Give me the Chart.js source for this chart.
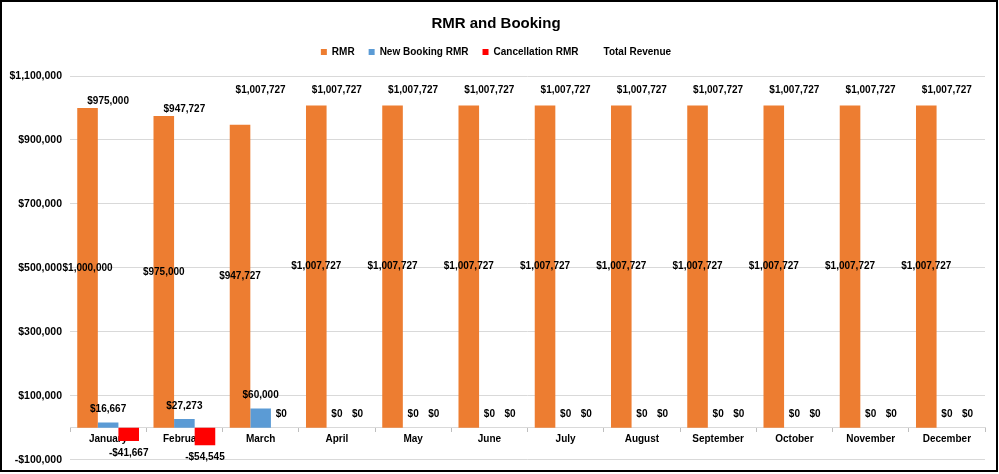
<!DOCTYPE html>
<html>
<head>
<meta charset="utf-8">
<title>RMR and Booking</title>
<script src="https://cdn.jsdelivr.net/npm/chart.js@4.4.1/dist/chart.umd.min.js"></script>
<style>
  html, body { margin: 0; padding: 0; background: #fff; }
  canvas { display: block; }
</style>
</head>
<body>
<canvas id="rmrChart" width="999" height="474"></canvas>
<script>
// Values
const months = ['January', 'February', 'March', 'April', 'May', 'June',
  'July', 'August', 'September', 'October', 'November', 'December'];
const rmr = [1000000, 975000, 947727, 1007727, 1007727, 1007727,
  1007727, 1007727, 1007727, 1007727, 1007727, 1007727];
const newBookingRmr = [16667, 27273, 60000, 0, 0, 0, 0, 0, 0, 0, 0, 0];
const cancellationRmr = [-41667, -54545, 0, 0, 0, 0, 0, 0, 0, 0, 0, 0];
const totalRevenue = [975000, 947727, 1007727, 1007727, 1007727, 1007727,
  1007727, 1007727, 1007727, 1007727, 1007727, 1007727];

// Axis ticks
const yMin = -100000;
const yMax = 1100000;
const yStep = 200000;

const FONT = '"Liberation Sans", Arial, sans-serif';

function money(v) {
  const s = '$' + Math.abs(Math.round(v)).toLocaleString('en-US');
  return v < 0 ? '-' + s : s;
}

// Excel-style data labels (center / outside end / above)
const valueLabels = {
  id: 'valueLabels',
  afterDatasetsDraw(chart) {
    const ctx = chart.ctx;
    ctx.save();
    ctx.font = 'bold 10px ' + FONT;
    ctx.fillStyle = '#000';
    ctx.textAlign = 'center';
    ctx.textBaseline = 'middle';
    chart.data.datasets.forEach((ds, i) => {
      const meta = chart.getDatasetMeta(i);
      meta.data.forEach((el, j) => {
        const v = ds.data[j];
        let y;
        if (ds.labelPos === 'center') y = (el.y + el.base) / 2;
        else if (ds.labelPos === 'above') y = el.y - 15;
        else y = v < 0 ? el.y + 12 : el.y - 13;
        ctx.fillText(money(v), el.x, y);
      });
    });
    ctx.restore();
  }
};

// white background + black frame
const frame = {
  id: 'frame',
  beforeDraw(chart) {
    const ctx = chart.ctx;
    ctx.save();
    ctx.fillStyle = '#fff';
    ctx.fillRect(0, 0, chart.width, chart.height);
    ctx.restore();
  },
  afterDraw(chart) {
    const ctx = chart.ctx;
    ctx.save();
    ctx.strokeStyle = '#000';
    ctx.lineWidth = 2;
    ctx.strokeRect(1, 1, 996, 470);
    ctx.restore();
  }
};

// leave a bit more room under the legend
const legendGap = {
  id: 'legendGap',
  beforeInit(chart) {
    const origFit = chart.legend.fit;
    chart.legend.fit = function () {
      origFit.bind(chart.legend)();
      this.height += 9;
    };
  }
};

const config = {
  type: 'bar',
  data: {
    labels: months,
    datasets: [
      { label: 'RMR', data: rmr, backgroundColor: '#ED7D31', labelPos: 'center' },
      { label: 'New Booking RMR', data: newBookingRmr, backgroundColor: '#5B9BD5', labelPos: 'end' },
      { label: 'Cancellation RMR', data: cancellationRmr, backgroundColor: '#FF0000', labelPos: 'end' },
      {
        type: 'line', label: 'Total Revenue', data: totalRevenue,
        showLine: false, pointRadius: 0, pointHoverRadius: 0,
        borderColor: 'rgba(0,0,0,0)', backgroundColor: 'rgba(0,0,0,0)',
        labelPos: 'above'
      }
    ]
  },
  options: {
    responsive: false,
    animation: false,
    datasets: {
      bar: { categoryPercentage: 0.81, barPercentage: 1 }
    },
    layout: { padding: { left: 7, right: 14, top: 0, bottom: 14 } },
    plugins: {
      title: {
        display: true,
        text: 'RMR and Booking',
        color: '#000',
        font: { family: FONT, size: 15, weight: 'bold' },
        padding: { top: 15, bottom: 0 }
      },
      legend: {
        position: 'top',
        labels: {
          boxWidth: 6,
          boxHeight: 6,
          padding: 14,
          color: '#000',
          font: { family: FONT, size: 10, weight: 'bold' }
        }
      },
      tooltip: { enabled: false }
    },
    scales: {
      x: {
        position: { y: 0 },
        z: 1,
        grid: { offset: true, drawOnChartArea: false, drawTicks: true, tickLength: 4, color: '#bfbfbf' },
        border: { color: '#d9d9d9' },
        ticks: {
          color: '#000', padding: 2, maxRotation: 0, autoSkip: false,
          font: { family: FONT, size: 10, weight: 'bold' }
        }
      },
      y: {
        min: yMin,
        max: yMax,
        ticks: {
          stepSize: yStep,
          color: '#000',
          padding: 8,
          font: { family: FONT, size: 10.5, weight: 'bold' },
          callback: (v) => money(v)
        },
        grid: { color: '#d9d9d9', drawTicks: false },
        border: { display: false },
        afterFit(scale) { scale.width = 63; }
      }
    }
  },
  plugins: [frame, legendGap, valueLabels]
};

const ctx = document.getElementById('rmrChart').getContext('2d');
const rmrChart = new Chart(ctx, config);
</script>
</body>
</html>
